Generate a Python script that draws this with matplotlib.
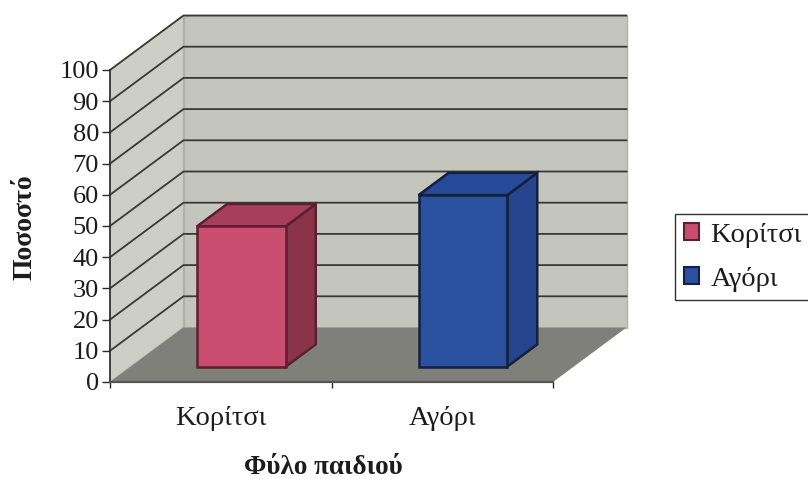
# -*- coding: utf-8 -*-
import matplotlib
matplotlib.use("Agg")
import matplotlib.pyplot as plt
from matplotlib.patches import Patch, Polygon

# chart data
categories = ['Κορίτσι', 'Αγόρι']
values = [45, 55]
y_ticks = [0, 10, 20, 30, 40, 50, 60, 70, 80, 90, 100]

front_colors = ['#c94d6e', '#2a50a0']
side_colors = ['#8a3349', '#25458f']
top_colors = ['#a83d5c', '#264a98']
edge_colors = ['#5a1f30', '#14203c']

# shift of the back plane in data units (oblique 3D look)
DX = 73.5 / 221.5
DY = 54.5 / 3.12
BAR_D0, BAR_D1 = 0.28, 0.69
BAR_W = 0.40

plt.rcParams['font.family'] = ['Liberation Serif', 'DejaVu Sans']

W, H = 808, 479
fig = plt.figure(figsize=(W / 100, H / 100), dpi=100)
ax = fig.add_axes([110 / W, 1 - 382 / H, 443 / W, 312 / H])
ax.set_xlim(0, 2)
ax.set_ylim(0, 100)
ax.patch.set_visible(False)


def proj(x, v, d):
    """ Project category position, value and depth (0-1) on the axes """
    return (x + d * DX, v + d * DY)


def add_poly(points, color, edge='none', lw=0, z=1):
    ax.add_patch(Polygon(points, closed=True, facecolor=color, edgecolor=edge,
                         linewidth=lw, clip_on=False, zorder=z))


# walls and floor
add_poly([proj(0, 0, 1), proj(2, 0, 1), proj(2, 100, 1), proj(0, 100, 1)],
         '#c4c5bc', '#b0b1a8', 1)
add_poly([proj(0, 0, 0), proj(0, 0, 1), proj(0, 100, 1), proj(0, 100, 0)],
         '#cdcec6', '#b0b1a8', 1)
add_poly([proj(0, 0, 0), proj(2, 0, 0), proj(2, 0, 1), proj(0, 0, 1)],
         '#7f807a', z=2)

# gridlines on the back and left walls
for t in y_ticks[1:]:
    x0, y0 = proj(0, t, 0)
    x1, y1 = proj(0, t, 1)
    x2, y2 = proj(2, t, 1)
    ax.plot([x0, x1, x2], [y0, y1, y2], color='#383a34', lw=1.3,
            clip_on=False, zorder=1.5, solid_joinstyle='miter')

# the bars
for i, val in enumerate(values):
    xl = i + 0.5 - BAR_W / 2
    xr = i + 0.5 + BAR_W / 2
    e = edge_colors[i]
    add_poly([proj(xr, 0, BAR_D0), proj(xr, 0, BAR_D1),
              proj(xr, val, BAR_D1), proj(xr, val, BAR_D0)],
             side_colors[i], e, 1.8, 3)
    add_poly([proj(xl, val, BAR_D0), proj(xr, val, BAR_D0),
              proj(xr, val, BAR_D1), proj(xl, val, BAR_D1)],
             top_colors[i], e, 1.8, 3)
    add_poly([proj(xl, 0, BAR_D0), proj(xr, 0, BAR_D0),
              proj(xr, val, BAR_D0), proj(xl, val, BAR_D0)],
             front_colors[i], e, 1.8, 4)

# axes, ticks and labels
for side in ['top', 'right']:
    ax.spines[side].set_visible(False)
ax.spines['left'].set_color('#2b2b2b')
ax.spines['left'].set_linewidth(1.2)
ax.spines['bottom'].set_color('#55564f')
ax.spines['bottom'].set_linewidth(1.6)
ax.set_yticks(y_ticks)
ax.tick_params(axis='y', length=6, width=1, color='#2b2b2b', pad=2,
               labelsize=19, labelcolor='#1c1c1c')
ax.set_xticks([0.5, 1.5])
ax.set_xticklabels(categories)
ax.tick_params(axis='x', length=0, pad=17, labelsize=20.5, labelcolor='#1c1c1c')
ax.set_xticks([0, 1, 2], minor=True)
ax.tick_params(axis='x', which='minor', length=4, width=1, color='#2b2b2b')

fig.text(323 / W, 1 - 467 / H, 'Φύλο παιδιού', fontsize=19.5, fontweight='bold',
         ha='center', va='center', color='#1c1c1c')
fig.text(25 / W, 1 - 227 / H, 'Ποσοστό', fontsize=20, fontweight='bold',
         rotation=90, ha='center', va='center', color='#1c1c1c')

# legend
handles = [Patch(facecolor=front_colors[i], edgecolor=edge_colors[i],
                 linewidth=1.5, label=categories[i]) for i in range(2)]
leg = fig.legend(handles=handles, loc='upper left',
                 bbox_to_anchor=(675 / W, 1 - 214 / H), borderaxespad=0,
                 fancybox=False, framealpha=1, edgecolor='#333333',
                 fontsize=20.5, handlelength=0.55, handleheight=0.55,
                 handletextpad=0.4, labelspacing=0.68, borderpad=0.3,
                 labelcolor='#1c1c1c')
leg.get_frame().set_linewidth(1)

fig.savefig('out.png', dpi=100)
